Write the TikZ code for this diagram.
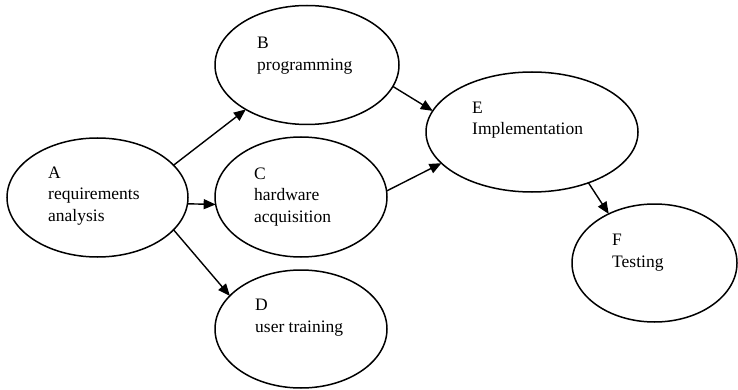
\documentclass[tikz,border=0pt]{standalone}
\usepackage{fontspec}
\setmainfont{Liberation Serif}
\usetikzlibrary{shapes.geometric,arrows.meta}
\begin{document}
\begin{tikzpicture}[x=1pt,y=-1pt,
  oval/.style={ellipse, draw, line width=1.5pt, inner sep=0pt, outer sep=0pt},
  lbl/.style={anchor=base west, inner sep=0pt, align=left, font=\fontsize{17.5}{21.5}\selectfont},
  arr/.style={-{Triangle[length=12pt,width=10pt]}, line width=1.4pt}]
\useasboundingbox (0,0) rectangle (738,390);
\node[oval, minimum width=181pt, minimum height=119pt] (A) at (97.5,197.5) {};
\node[oval, minimum width=184pt, minimum height=119pt] (B) at (307,65) {};
\node[oval, minimum width=172pt, minimum height=120pt] (C) at (301,197) {};
\node[oval, minimum width=172pt, minimum height=118pt] (D) at (301,329) {};
\node[oval, minimum width=212pt, minimum height=120pt] (E) at (532,132) {};
\node[oval, minimum width=165pt, minimum height=118pt] (F) at (654.5,263) {};
\node[lbl] (At) at (48,221) {A\\requirements\\analysis};
\node[lbl] (Bt) at (257,70.5) {B\\programming};
\node[lbl] (Ct) at (254,222) {C\\hardware\\acquisition};
\node[lbl] (Dt) at (255,332) {D\\user training};
\node[lbl] (Et) at (472,135) {E\\Implementation};
\node[lbl] (Ft) at (612,267) {F\\Testing};
\draw[arr] (A.23.5) -- (B.216);
\draw[arr] (A.-4) -- (C.185);
\draw[arr] (A.-23.5) -- (D.155);
\draw[arr] (B.-14.5) -- (E.168);
\draw[arr] (C.4) -- (E.199);
\draw[arr] (E.-42) -- (F.133);
\end{tikzpicture}
\end{document}
